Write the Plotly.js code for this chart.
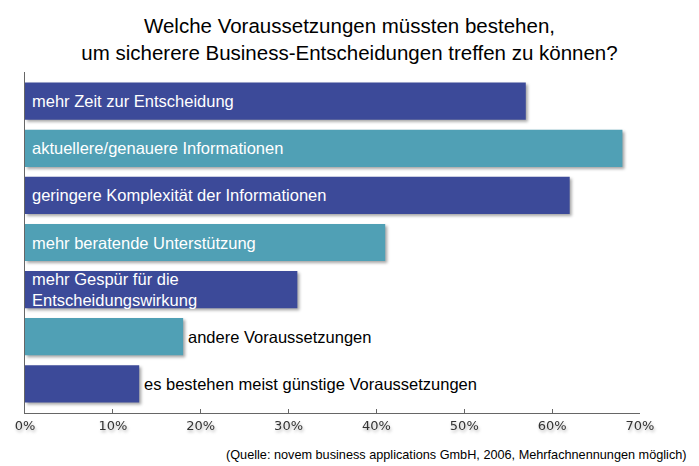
<!DOCTYPE html>
<html>
<head>
<meta charset="utf-8">
<script src="https://cdn.plot.ly/plotly-3.0.1.min.js"></script>
<style>
html,body{margin:0;padding:0;background:#fff;}
#chart{width:699px;height:466px;}
#chart .barlayer .point path{filter:drop-shadow(2px 2px 1.5px rgba(0,0,0,0.35));}
#chart .xtick text{filter:drop-shadow(1px 2px 1.5px rgba(0,0,0,0.3));}
</style>
</head>
<body>
<div id="chart"></div>
<script>
// Data
var categories = [
  'mehr Zeit zur Entscheidung',
  'aktuellere/genauere Informationen',
  'geringere Komplexität der Informationen',
  'mehr beratende Unterstützung',
  'mehr Gespür für die<br>Entscheidungswirkung',
  'andere Voraussetzungen',
  'es bestehen meist günstige Voraussetzungen'
];
var values = [57, 68, 62, 41, 31, 18, 13];
var tickValues = [0, 10, 20, 30, 40, 50, 60, 70];
var tickLabels = ['0%', '10%', '20%', '30%', '40%', '50%', '60%', '70%'];
var titleText = 'Welche Voraussetzungen müssten bestehen,<br>um sicherere Business-Entscheidungen treffen zu können?';
var sourceText = '(Quelle: novem business applications GmbH, 2006, Mehrfachnennungen möglich)';

var darkBlue = '#3c4a99';
var teal = '#50a0b5';
var colors = categories.map(function(c, i){ return i % 2 === 0 ? darkBlue : teal; });

var trace = {
  type: 'bar',
  orientation: 'h',
  x: values,
  y: categories,
  marker: {color: colors},
  hoverinfo: 'x+y'
};

var annotations = categories.map(function(c, i){
  var inside = values[i] > 25;
  return {
    xref: 'x', yref: 'y',
    x: inside ? 0 : values[i],
    y: c,
    text: c,
    showarrow: false,
    xanchor: 'left',
    yanchor: 'middle',
    align: 'left',
    xshift: inside ? 5 : 3,
    font: {family: 'Liberation Sans, Arial, sans-serif', size: 16.5, color: inside ? '#ffffff' : '#000000'}
  };
});
annotations.push({
  xref: 'paper', yref: 'paper',
  x: 1 + 49/615, y: -42/341,
  xanchor: 'right', yanchor: 'middle',
  text: sourceText,
  showarrow: false,
  font: {family: 'Liberation Sans, Arial, sans-serif', size: 12.7, color: '#000000'}
});

var layout = {
  width: 699, height: 466,
  margin: {l: 25, r: 59, t: 72, b: 53},
  paper_bgcolor: '#ffffff',
  plot_bgcolor: '#ffffff',
  showlegend: false,
  bargap: 0.21,
  title: {
    text: titleText,
    x: 0.5, xref: 'container', xanchor: 'center',
    y: 1 - 33/466, yref: 'container', yanchor: 'middle',
    font: {family: 'Liberation Sans, Arial, sans-serif', size: 20.5, color: '#000000'}
  },
  xaxis: {
    range: [0, 70],
    tickvals: tickValues,
    ticktext: tickLabels,
    ticks: 'inside', ticklen: 4, tickcolor: '#666666',
    showgrid: false, zeroline: false,
    showline: true, linecolor: '#666666', linewidth: 1,
    tickfont: {family: 'DejaVu Sans, Verdana, sans-serif', size: 13, color: '#333333'},
    fixedrange: true
  },
  yaxis: {
    type: 'category',
    range: [6.62, -0.62],
    showticklabels: false,
    ticks: '',
    showgrid: false, zeroline: false,
    showline: true, linecolor: '#666666', linewidth: 1,
    fixedrange: true
  },
  annotations: annotations
};

Plotly.newPlot('chart', [trace], layout, {displayModeBar: false, staticPlot: true});
</script>
</body>
</html>
